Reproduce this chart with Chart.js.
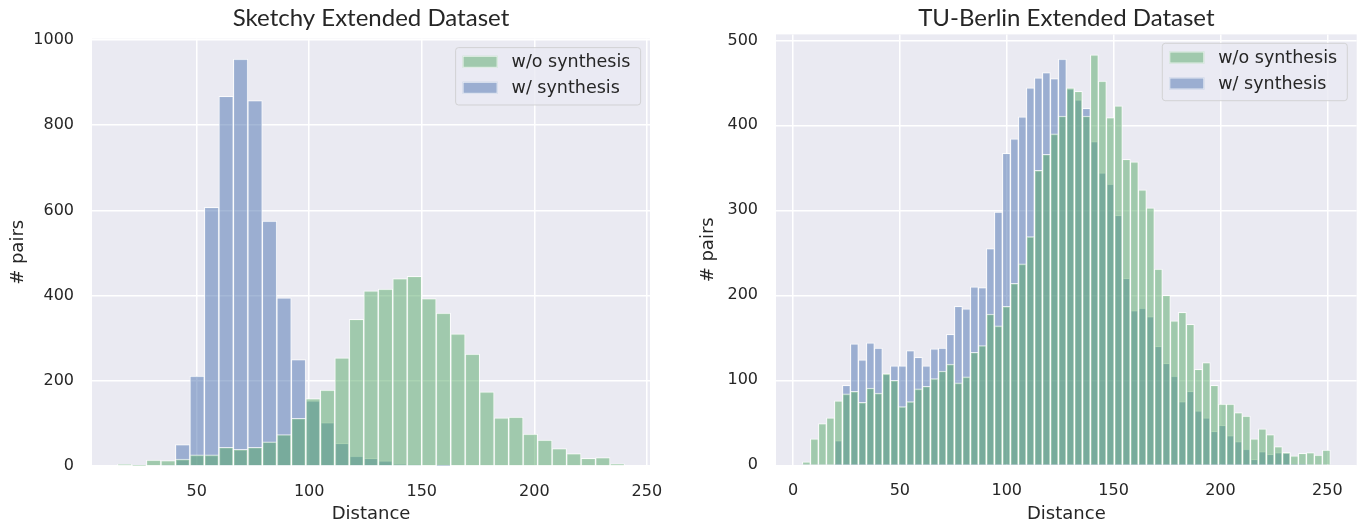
<!DOCTYPE html>
<html><head><meta charset="utf-8">
<script src="https://cdn.jsdelivr.net/npm/chart.js@4.4.1/dist/chart.umd.min.js"></script>
<style>
html,body{margin:0;padding:0;background:#fff;width:1361px;height:527px;overflow:hidden}
#c1{position:absolute;left:0;top:0}
#c2{position:absolute;left:690px;top:0}
</style></head><body>
<canvas id="c1" width="690" height="527"></canvas>
<canvas id="c2" width="671" height="527"></canvas>
<script>
// ---- data ----
const seriesLabels = ['w/o synthesis', 'w/ synthesis'];

// Sketchy: bin centres (Distance)
const sketchyBins = [18.02,24.46,30.89,37.33,43.77,50.20,56.64,63.08,69.52,75.95,82.39,88.83,95.26,101.70,108.14,114.57,121.01,127.45,133.88,140.32,146.76,153.20,159.63,166.07,172.51,178.94,185.38,191.82,198.25,204.69,211.13,217.56,224.00,230.44,236.87];
const sketchyWithout = [4,1,14,13,16,26,26,44,39,44,57,74,112,158,178,254,344,411,415,440,445,393,359,310,263,174,113,115,75,61,41,29,18,20,5];
const sketchyWith = [0,0,0,2,50,211,607,868,955,858,575,395,250,153,102,53,23,18,12,4,3,0,1,0,0,0,0,0,0,0,0,0,0,0,0];

// TU-Berlin: bin centres (Distance)
const tuBins = [6.27,10.01,13.76,17.50,21.24,24.99,28.73,32.47,36.21,39.96,43.70,47.44,51.19,54.93,58.67,62.42,66.16,69.90,73.64,77.39,81.13,84.87,88.62,92.36,96.10,99.85,103.59,107.33,111.07,114.82,118.56,122.30,126.05,129.79,133.53,137.28,141.02,144.76,148.50,152.25,155.99,159.73,163.48,167.22,170.96,174.71,178.45,182.19,185.93,189.68,193.42,197.16,200.91,204.65,208.39,212.14,215.88,219.62,223.36,227.11,230.85,234.59,238.34,242.08,245.82,249.57];
const tuWithout = [4,31,49,56,76,84,87,74,91,85,108,100,69,75,90,93,102,111,119,97,104,133,141,178,164,187,214,237,269,347,366,390,411,444,440,411,483,452,409,423,360,357,324,303,231,200,170,180,166,113,121,94,72,72,62,58,31,43,36,22,15,11,14,15,12,18];
const tuWith = [0,0,0,0,29,94,143,124,144,138,107,117,117,135,127,117,137,138,154,187,184,210,209,255,298,367,384,410,444,456,462,455,478,443,430,420,381,344,331,294,220,182,185,175,140,120,105,75,87,64,56,40,47,35,28,19,7,16,13,15,15,1,1,0,0,0];

const sketchyXTicks = [50,100,150,200,250];
const sketchyYTicks = [0,200,400,600,800,1000];
const tuXTicks = [0,50,100,150,200,250];
const tuYTicks = [0,100,200,300,400,500];

// ---- styles ----
const BG = '#EAEAF2';
const GREEN = 'rgba(85,168,104,0.5)';
const BLUE = 'rgba(76,114,176,0.5)';
const EDGE = 'rgba(255,255,255,0.75)';
const TXT = '#262626';

const bgPlugin = {
  id: 'plotBg',
  beforeDraw(chart) {
    const {ctx, chartArea: a} = chart;
    ctx.save();
    ctx.fillStyle = BG;
    ctx.fillRect(a.left, a.top, a.right - a.left, a.bottom - a.top);
    ctx.restore();
  }
};

function roundRect(ctx, x, y, w, h, r) {
  ctx.beginPath();
  ctx.moveTo(x + r, y);
  ctx.lineTo(x + w - r, y);
  ctx.arcTo(x + w, y, x + w, y + r, r);
  ctx.lineTo(x + w, y + h - r);
  ctx.arcTo(x + w, y + h, x + w - r, y + h, r);
  ctx.lineTo(x + r, y + h);
  ctx.arcTo(x, y + h, x, y + h - r, r);
  ctx.lineTo(x, y + r);
  ctx.arcTo(x, y, x + r, y, r);
  ctx.closePath();
}

const legendPlugin = {
  id: 'insetLegend',
  afterDraw(chart) {
    const {ctx, chartArea: a} = chart;
    const fs = 17.5, w = 185, h = 57.4;
    const x = a.right - 9.4 - w, y = a.top + 8.9;
    ctx.save();
    roundRect(ctx, x, y, w, h, 3);
    ctx.fillStyle = 'rgba(234,234,242,0.8)';
    ctx.fill();
    ctx.strokeStyle = 'rgba(204,204,204,0.8)';
    ctx.lineWidth = 1;
    ctx.stroke();
    chart.data.datasets.forEach((d, k) => {
      const cy = y + 14.2 + k * 26;
      ctx.fillStyle = d.backgroundColor;
      ctx.fillRect(x + 7, cy - 6, 35, 12);
      ctx.strokeStyle = EDGE;
      ctx.lineWidth = 1;
      ctx.strokeRect(x + 7.5, cy - 5.5, 34, 11);
      ctx.fillStyle = TXT;
      ctx.font = fs + 'px "DejaVu Sans"';
      ctx.textBaseline = 'middle';
      ctx.textAlign = 'left';
      ctx.fillText(d.label, x + 56, cy + 1);
    });
    ctx.restore();
  }
};

function makeChart(id, cfg) {
  const mk = (vals) => cfg.bins.map((x, i) => ({x: x, y: vals[i]}));
  const common = {borderColor: EDGE, borderWidth: 1, grouped: false, barPercentage: 1, categoryPercentage: 1, borderSkipped: 'start'};
  // Chart.js paints dataset 0 last (on top): green over blue, as in the reference
  return new Chart(document.getElementById(id), {
    type: 'bar',
    data: {
      datasets: [
        Object.assign({label: seriesLabels[0], data: mk(cfg.withoutS), backgroundColor: GREEN}, common),
        Object.assign({label: seriesLabels[1], data: mk(cfg.withS), backgroundColor: BLUE}, common)
      ]
    },
    options: {
      responsive: false,
      animation: false,
      layout: {padding: {left: 0, right: cfg.padRight, top: 0, bottom: 0}},
      plugins: {
        legend: {display: false},
        tooltip: {enabled: false},
        title: {
          display: true, text: cfg.title, fullSize: false, color: TXT,
          font: {family: 'Lato', size: 24, weight: 'normal'},
          padding: {top: 4, bottom: cfg.titleBottom}
        }
      },
      scales: {
        x: {
          type: 'linear', min: cfg.xmin, max: cfg.xmax, offset: false,
          afterBuildTicks(s) { s.ticks = cfg.xticks.map(v => ({value: v})); },
          afterFit(s) { s.height = cfg.xAxisH; },
          grid: {color: '#ffffff', lineWidth: 1.5, drawTicks: false, offset: false},
          border: {display: false},
          ticks: {color: TXT, font: {family: 'DejaVu Sans', size: 16}, padding: 16, maxRotation: 0, autoSkip: false, callback: v => String(v)},
          title: {display: true, text: 'Distance', color: TXT, font: {family: 'DejaVu Sans', size: 18}, padding: {top: 0, bottom: 1.8}}
        },
        y: {
          type: 'linear', min: 0, max: cfg.ymax,
          afterBuildTicks(s) { s.ticks = cfg.yticks.map(v => ({value: v})); },
          afterFit(s) { s.width = cfg.yAxisW; },
          grid: {color: '#ffffff', lineWidth: 1.5, drawTicks: false},
          border: {display: false},
          ticks: {color: TXT, font: {family: 'DejaVu Sans', size: 16}, padding: 18, callback: v => String(v)},
          title: {display: true, text: '# pairs', color: TXT, font: {family: 'DejaVu Sans', size: 18}, padding: {top: 7.8, bottom: 0}}
        }
      }
    },
    plugins: [bgPlugin, legendPlugin]
  });
}

makeChart('c1', {
  title: 'Sketchy Extended Dataset',
  bins: sketchyBins, withoutS: sketchyWithout, withS: sketchyWith,
  xticks: sketchyXTicks, yticks: sketchyYTicks,
  xmin: 3.5, xmax: 251.4, ymax: 1003,
  padRight: 40, yAxisW: 92, xAxisH: 61, titleBottom: 5.9
});
makeChart('c2', {
  title: 'TU-Berlin Extended Dataset',
  bins: tuBins, withoutS: tuWithout, withS: tuWith,
  xticks: tuXTicks, yticks: tuYTicks,
  xmin: -7.95, xmax: 263.75, ymax: 507,
  padRight: 4.3, yAxisW: 86, xAxisH: 61.7, titleBottom: 1.6
});
</script>
</body></html>
